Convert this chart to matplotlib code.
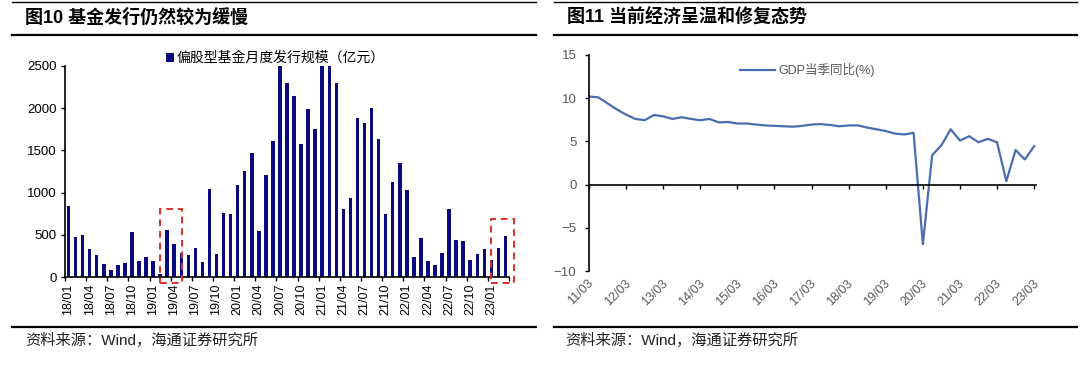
import matplotlib
matplotlib.use("Agg")
import matplotlib.pyplot as plt
import matplotlib.transforms as mtransforms
from matplotlib.lines import Line2D
from matplotlib.patches import Patch, Rectangle
import pandas as pd

plt.rcParams["font.family"] = ["Liberation Sans", "Noto Sans CJK SC"]

# ---- data: left panel, monthly equity-fund issuance (100m yuan), 2018/01 - 2023/03 ----
fund_start = "2018-01"
fund_issuance = [
    840, 475, 500, 335, 265, 150, 80, 140, 165, 535, 190, 240,
    195, 32, 555, 395, 285, 255, 345, 175, 1045, 275, 760, 752,
    1095, 1260, 1465, 540, 1210, 1610, 2700, 2295, 2150, 1580, 1985, 1755,
    2750, 2650, 2300, 805, 940, 1885, 1830, 2000, 1635, 750, 1120, 1355,
    1035, 235, 465, 185, 145, 290, 805, 440, 430, 205, 270, 335,
    200, 340, 490,
]
fund_label = "偏股型基金月度发行规模（亿元）"
fund_yticks = [0, 500, 1000, 1500, 2000, 2500]
# highlighted ranges (left x, right x, top value) in bar units
fund_boxes = [(13.0, 16.1, 800), (59.9, 63.2, 690)]

# ---- data: right panel, quarterly GDP yoy (%), 2011Q1 - 2023Q1 ----
gdp_yoy = [
    10.2, 10.1, 9.4, 8.7,
    8.1, 7.6, 7.45, 8.05,
    7.9, 7.6, 7.8, 7.6,
    7.45, 7.6, 7.2, 7.25,
    7.07, 7.07, 6.95, 6.85,
    6.8, 6.75, 6.7, 6.8,
    6.95, 7.0, 6.9, 6.75,
    6.85, 6.85, 6.6, 6.4,
    6.2, 5.9, 5.8, 6.0,
    -6.9, 3.4, 4.55, 6.4,
    5.1, 5.6, 4.9, 5.3,
    4.9, 0.4, 4.0, 2.9,
    4.45,
]
gdp_label = "GDP当季同比(%)"
gdp_ticklabels = ["11/03", "12/03", "13/03", "14/03", "15/03", "16/03", "17/03",
                  "18/03", "19/03", "20/03", "21/03", "22/03", "23/03"]
gdp_yticks = [-10, -5, 0, 5, 10, 15]

title_left = "图10 基金发行仍然较为缓慢"
title_right = "图11 当前经济呈温和修复态势"
source_text = "资料来源：Wind，海通证券研究所"

W, H = 1080, 365
NAVY = "#0a0a80"
BLUE = "#4a6db0"
GREY = "#595959"


def fx(px):
    return px / W


def fy(py):
    return 1 - py / H


def hline(fig, x0, x1, y, lw):
    fig.add_artist(Line2D([fx(x0), fx(x1)], [fy(y), fy(y)], transform=fig.transFigure,
                          color="black", linewidth=lw))


fig = plt.figure(figsize=(W / 100, H / 100), dpi=100)

# frame lines, titles, sources
for x0, x1 in [(12, 536), (554, 1077)]:
    hline(fig, x0, x1, 1.5, 1.0)
    hline(fig, x0, x1, 35, 1.6)
    hline(fig, x0, x1, 327, 1.6)
fig.text(fx(25), fy(18), title_left, fontsize=13, fontweight="bold", va="center", ha="left")
fig.text(fx(567), fy(18), title_right, fontsize=13, fontweight="bold", va="center", ha="left")
fig.text(fx(25), fy(340), source_text, fontsize=11, va="center", ha="left", color="#222222")
fig.text(fx(565), fy(340), source_text, fontsize=11, va="center", ha="left", color="#222222")

# ---- left: fund issuance bars ----
ax1 = fig.add_axes([fx(65), fy(277), fx(509) - fx(65), fy(66) - fy(277)])
months = pd.period_range(fund_start, periods=len(fund_issuance), freq="M")
xpos = list(range(len(fund_issuance)))
ax1.bar(xpos, fund_issuance, width=0.5, color=NAVY)
ax1.set_xlim(-0.5, len(fund_issuance) - 0.5)
ax1.set_ylim(0, 2500)
ax1.set_yticks(fund_yticks)
ax1.tick_params(axis="y", direction="out", length=3, width=1, pad=3, labelsize=9.5)
ax1.set_xticks([i - 0.5 for i in range(0, len(fund_issuance) + 1, 3)])
ax1.set_xticklabels([])
ax1.set_xticks(xpos[::3], minor=True)
ax1.set_xticklabels([m.strftime("%y/%m") for m in months[::3]], minor=True,
                    rotation=90, fontsize=9)
ax1.tick_params(axis="x", which="major", direction="out", length=3, width=1)
ax1.tick_params(axis="x", which="minor", length=0, pad=5)
for side in ["top", "right"]:
    ax1.spines[side].set_visible(False)
for side in ["left", "bottom"]:
    ax1.spines[side].set_linewidth(1.2)

for xl, xr, top in fund_boxes:
    ax1.add_patch(Rectangle((xl, -75), xr - xl, top + 75, fill=False,
                            edgecolor="#e0302a", linewidth=1.4, linestyle=(0, (3.5, 2.5)),
                            clip_on=False, zorder=5))

ax1.legend(handles=[Patch(facecolor=NAVY, label=fund_label)], loc="center left",
           bbox_to_anchor=(fx(160), fy(58)), bbox_transform=fig.transFigure,
           frameon=False, fontsize=10, handlelength=0.6, handleheight=0.6,
           handletextpad=0.2, borderaxespad=0)

# ---- right: GDP line ----
ax2 = fig.add_axes([fx(589), fy(271), fx(1036) - fx(589), fy(55) - fy(271)])
qpos = list(range(len(gdp_yoy)))
ax2.plot(qpos, gdp_yoy, color=BLUE, linewidth=1.6, label=gdp_label)
ax2.set_xlim(0, len(gdp_yoy) - 0.8)
ax2.set_ylim(-10, 15)
ax2.set_yticks(gdp_yticks)
ax2.tick_params(axis="y", direction="out", length=3, width=1, pad=6, labelsize=9.5,
                labelcolor=GREY)
ax2.spines["bottom"].set_position(("data", 0))
ax2.set_xticks(qpos[::4])
ax2.tick_params(axis="x", direction="out", length=3, width=1, labelbottom=False)
for side in ["top", "right"]:
    ax2.spines[side].set_visible(False)
for side in ["left", "bottom"]:
    ax2.spines[side].set_linewidth(1.2)
lab_tr = mtransforms.blended_transform_factory(ax2.transData, ax2.transAxes)
for x, lab in zip(qpos[::4], gdp_ticklabels):
    ax2.text(x + 0.3, -0.05, lab, transform=lab_tr, rotation=45, rotation_mode="anchor",
             ha="right", va="center", fontsize=9, color=GREY)

ax2.legend(loc="center left", bbox_to_anchor=(fx(735), fy(70)), bbox_transform=fig.transFigure,
           frameon=False, fontsize=9, handlelength=2.8, handletextpad=0.3, borderaxespad=0,
           labelcolor=GREY)

fig.savefig("out.png", dpi=100)
